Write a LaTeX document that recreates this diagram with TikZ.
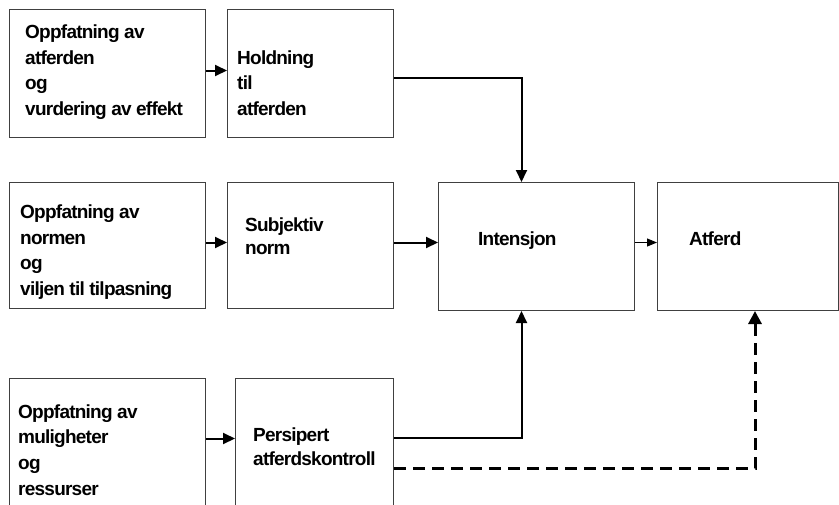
\documentclass[tikz,border=0pt]{standalone}
\usepackage{fontspec}
\setmainfont{Liberation Sans}
\usetikzlibrary{arrows.meta,calc}

\newcommand\lblfont[1]{\bfseries\fontsize{19}{#1}\selectfont\addfontfeature{LetterSpace=-4}}

\begin{document}
\begin{tikzpicture}[x=1pt,y=-1pt,
  box/.style={draw=black!75, line width=1pt, rectangle, inner sep=0pt, anchor=north west},
  lbl/.style={anchor=base west, align=left, inner sep=0pt, font=\lblfont{25.4}},
  arr/.style={line width=2pt, -{Triangle[length=12pt,width=11pt]}},
  thinarr/.style={line width=1pt, -{Triangle[length=10pt,width=8pt]}},
  darr/.style={line width=3pt, dash pattern=on 12pt off 7pt, -{Triangle[length=13pt,width=13pt]}}]

\useasboundingbox (0,0) rectangle (839,504);

% boxes
\node[box, minimum width=196pt, minimum height=128pt] (b1) at (9,9) {};
\node[box, minimum width=166pt, minimum height=128pt] (b2) at (227,9) {};
\node[box, minimum width=196pt, minimum height=126pt] (b3) at (9,182) {};
\node[box, minimum width=166pt, minimum height=126pt] (b4) at (227,182) {};
\node[box, minimum width=196pt, minimum height=128pt] (int) at (438,182) {};
\node[box, minimum width=181pt, minimum height=128pt] (atf) at (657,182) {};
\node[box, minimum width=196pt, minimum height=140pt] (b7) at (9,378) {};
\node[box, minimum width=158pt, minimum height=140pt] (b8) at (235,378) {};

% labels (anchored at the baseline of their last line)
\node[lbl] (t1) at (25,115) {Oppfatning av\\atferden\\og\\vurdering av effekt};
\node[lbl, font=\lblfont{25.5}] (t2) at (237,115) {Holdning\\til\\atferden};
\node[lbl] (t3) at (20,295) {Oppfatning av\\normen\\og\\viljen til tilpasning};
\node[lbl, font=\lblfont{23}] (t4) at (245,254) {Subjektiv\\norm};
\node[lbl] (t5) at (478,245) {Intensjon};
\node[lbl] (t6) at (689,245) {Atferd};
\node[lbl, font=\lblfont{25.6}] (t7) at (18,495) {Oppfatning av\\muligheter\\og\\ressurser};
\node[lbl, font=\lblfont{24}] (t8) at (253,465) {Persipert\\atferdskontroll};

% connectors
\draw[arr] ($(b1.east)+(0,-3)$) -- ($(b2.west)+(0,-3)$);
\draw[arr] ($(b2.east)+(0,4)$) -| ($(int.north)+(-15,0)$);
\draw[arr] ($(b3.east)+(0,-3)$) -- ($(b4.west)+(0,-3)$);
\coordinate (m) at ($(b4.east)+(0,-3)$);
\draw[arr] (m) -- (m -| int.west);
\draw[thinarr] (int.east |- m) -- (atf.west |- m);
\draw[arr] ($(b7.east)+(0,-10)$) -- ($(b8.west)+(0,-10)$);
\draw[arr] ($(b8.east)+(0,-11)$) -| ($(int.south)+(-15,0)$);
\draw[darr] ($(b8.east)+(0,20)$) -| ($(atf.south)+(7,0)$);
\end{tikzpicture}
\end{document}
